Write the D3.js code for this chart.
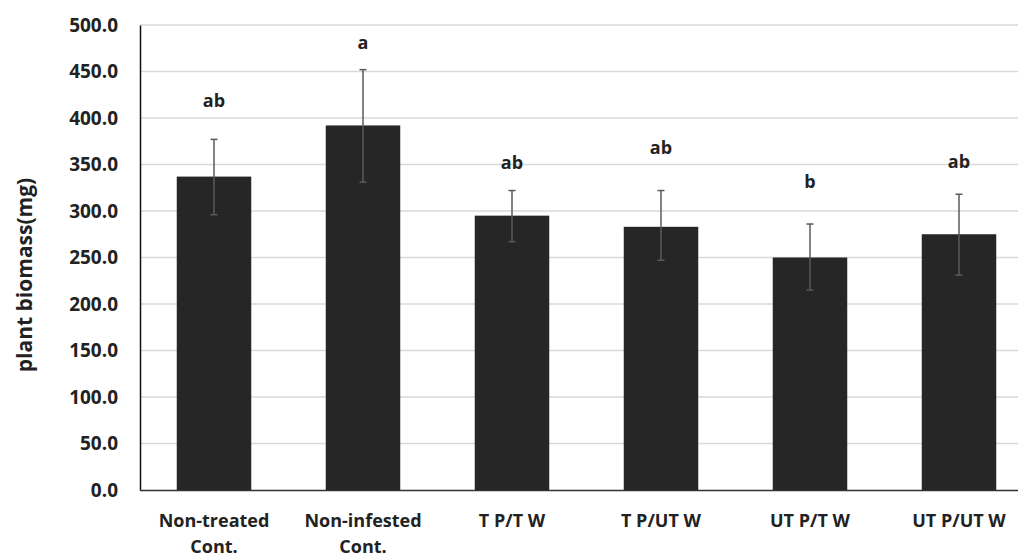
<!DOCTYPE html>
<html>
<head>
<meta charset="utf-8">
<script src="https://cdn.jsdelivr.net/npm/d3@7"></script>
<style>
  html, body { margin: 0; padding: 0; background: #fff; }
  svg text { font-family: "Open Sans", Lato, sans-serif; font-weight: bold; fill: #222; }
</style>
</head>
<body>
<svg id="chart" width="1018" height="557"></svg>
<script>
// Treatments (two-line labels split on "\n")
const categories = ["Non-treated\nCont.", "Non-infested\nCont.", "T P/T W", "T P/UT W", "UT P/T W", "UT P/UT W"];
// Mean plant biomass (mg)
const biomass = [337, 392, 295, 283, 250, 275];
// Error bar ends (mg)
const errLow  = [296, 331, 267, 247, 215, 231];
const errHigh = [377, 452, 322, 322, 286, 318];
// Significance letters and the height (mg) at which each sits
const sigLetters = ["ab", "a", "ab", "ab", "b", "ab"];
const sigLetterY = [419, 481, 352, 368, 332, 353];
// Y axis ticks
const yTicks = [0, 50, 100, 150, 200, 250, 300, 350, 400, 450, 500];

const svg = d3.select("#chart");

const y = d3.scaleLinear().domain([0, 500]).range([490, 25]);
const x = d3.scaleBand().domain(categories).range([139.5, 1033.5])
  .paddingInner(0.5).paddingOuter(0.25);

// Horizontal gridlines
svg.append("g")
  .selectAll("line")
  .data(yTicks.filter(d => d > 0))
  .join("line")
  .attr("x1", 140).attr("x2", 1018)
  .attr("y1", d => y(d)).attr("y2", d => y(d))
  .attr("stroke", "#d9d9d9").attr("stroke-width", 1.5);

// Bars
svg.append("g")
  .selectAll("rect")
  .data(categories)
  .join("rect")
  .attr("x", d => x(d))
  .attr("width", x.bandwidth())
  .attr("y", (d, i) => y(biomass[i]))
  .attr("height", (d, i) => y(0) - y(biomass[i]))
  .attr("fill", "#262626");

// Error bars
const eb = svg.append("g").attr("stroke", "#5a5a5a").attr("stroke-width", 1.5);
categories.forEach((c, i) => {
  const cx = x(c) + x.bandwidth() / 2;
  eb.append("line").attr("x1", cx).attr("x2", cx).attr("y1", y(errLow[i])).attr("y2", y(errHigh[i]));
  eb.append("line").attr("x1", cx - 3.5).attr("x2", cx + 3.5).attr("y1", y(errLow[i])).attr("y2", y(errLow[i]));
  eb.append("line").attr("x1", cx - 3.5).attr("x2", cx + 3.5).attr("y1", y(errHigh[i])).attr("y2", y(errHigh[i]));
});

// Significance letters
svg.append("g")
  .selectAll("text")
  .data(categories)
  .join("text")
  .attr("x", d => x(d) + x.bandwidth() / 2)
  .attr("y", (d, i) => y(sigLetterY[i]))
  .attr("dy", "0.35em")
  .attr("text-anchor", "middle")
  .attr("font-size", 18)
  .text((d, i) => sigLetters[i]);

// Y axis
const yAxis = svg.append("g")
  .attr("transform", "translate(140,0)")
  .call(d3.axisLeft(y).tickValues(yTicks).tickFormat(d3.format(".1f")).tickSize(0).tickPadding(22));
yAxis.select(".domain").attr("stroke", "#111").attr("stroke-width", 1.5);
yAxis.selectAll("text").attr("font-size", 19).attr("fill", "#222")
  .style("font-family", "'Open Sans', Lato, sans-serif").style("font-weight", "bold");

// X axis
const xAxis = svg.append("g")
  .attr("transform", "translate(0,490)")
  .call(d3.axisBottom(x).tickSize(0).tickFormat(""));
xAxis.select(".domain").attr("stroke", "#333").attr("stroke-width", 1.5);

// X category labels
const xl = svg.append("g")
  .selectAll("text")
  .data(categories)
  .join("text")
  .attr("x", d => x(d) + x.bandwidth() / 2)
  .attr("y", 527)
  .attr("text-anchor", "middle")
  .attr("font-size", 18);
xl.each(function(d) {
  const lines = d.split("\n");
  const t = d3.select(this);
  lines.forEach((ln, k) => {
    t.append("tspan").attr("x", x(d) + x.bandwidth() / 2).attr("dy", k === 0 ? 0 : 26).text(ln);
  });
});

// Y axis title
svg.append("text")
  .attr("transform", "translate(32,275) rotate(-90)")
  .attr("text-anchor", "middle")
  .attr("font-size", 21)
  .text("plant biomass(mg)");
</script>
</body>
</html>
